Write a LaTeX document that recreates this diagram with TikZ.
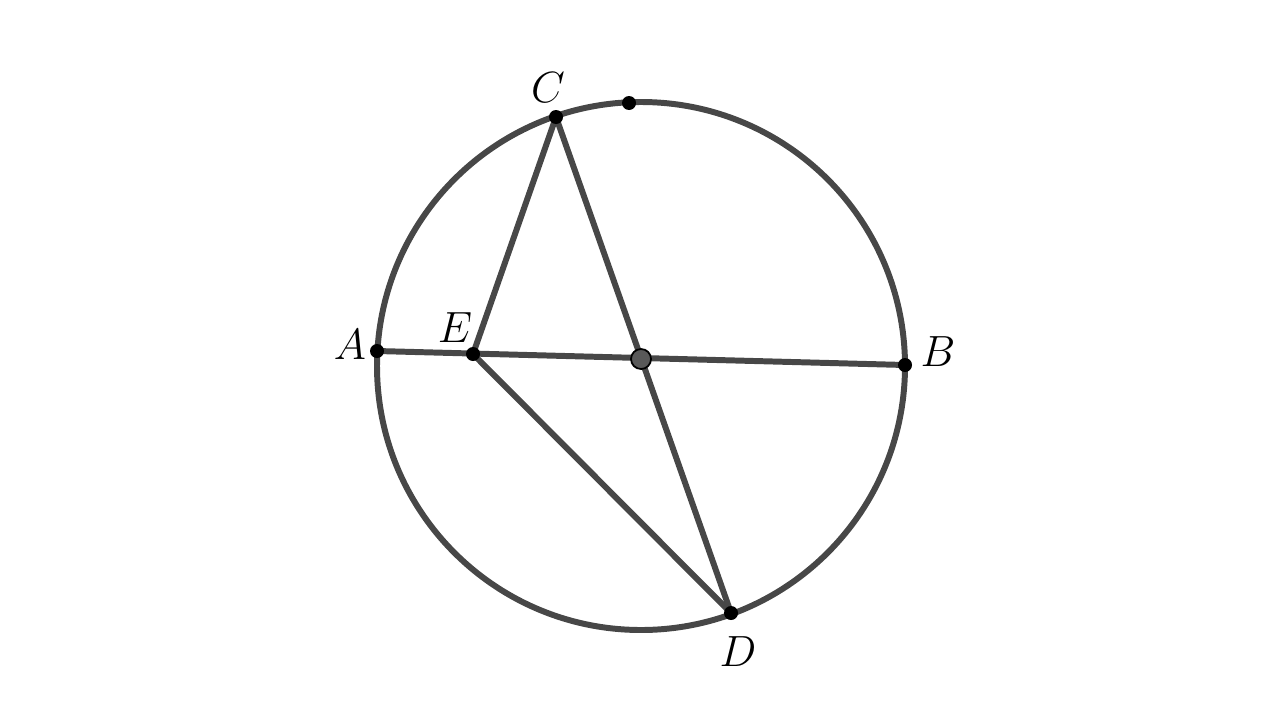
\documentclass[tikz,border=0pt]{standalone}
\usepackage{amsmath, amssymb}
\usetikzlibrary{calc}

\tikzset{
	seg/.style={line width=3.4pt, draw=black!72},
	pt/.style={fill=black},
	lbl/.style={font=\fontsize{28}{30}\selectfont}
}

\begin{document}
\begin{tikzpicture}[x=0.02cm, y=-0.02cm]
	\useasboundingbox (0,0) rectangle (1280,720);
	\coordinate (M) at (641,366);
	\coordinate (A) at (377,351);
	\coordinate (B) at (905,365);
	\coordinate (O) at (641,359);
	\coordinate (E) at (473,354);
	\coordinate (C) at (556,117);
	\coordinate (D) at (731,613);
	\coordinate (T) at (629,103);
	
	\draw[seg] (M) circle (264);
	\draw[seg] (A)--(B);
	\draw[seg] (C)--(D);
	\draw[seg] (E)--(C);
	\draw[seg] (E)--(D);
	
	\foreach \p in {A,B,C,D,E,T}
		\fill[pt] (\p) circle (7);
	\filldraw[fill=black!65, draw=black, line width=1pt] (O) circle (10);
	
	\node[lbl] (lA) at (350,345) {$A$};
	\node[lbl] (lB) at (938,352) {$B$};
	\node[lbl] (lC) at (548,88) {$C$};
	\node[lbl] (lD) at (738,652) {$D$};
	\node[lbl] (lE) at (455,328) {$E$};
\end{tikzpicture}
\end{document}
